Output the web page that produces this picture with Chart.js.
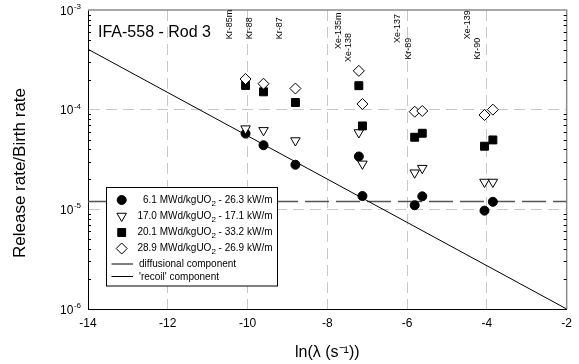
<!DOCTYPE html>
<html>
<head>
<meta charset="utf-8">
<script src="https://cdn.jsdelivr.net/npm/chart.js@4/dist/chart.umd.min.js"></script>
<style>
  html, body { margin: 0; padding: 0; background: #fff; }
</style>
</head>
<body>
<canvas id="chart" width="579" height="364"></canvas>
<script>
const FONT = "'Liberation Sans', Arial, Helvetica, sans-serif";

// ln(lambda) of each measured isotope
const isotopeX = [-10.05, -9.60, -8.80, -7.21, -7.12, -5.81, -5.62, -4.06, -3.85];

// release rate / birth rate for each burnup step
const rb61 = [5.75e-5, 4.4e-5, 2.8e-5, 3.39e-5, 1.36e-5, 1.1e-5, 1.35e-5, 9.7e-6, 1.19e-5];
const rb170 = [6.45e-5, 6.2e-5, 4.9e-5, 5.9e-5, 2.86e-5, 2.33e-5, 2.59e-5, 1.88e-5, 1.88e-5];
const rb201 = [1.75e-4, 1.51e-4, 1.18e-4, 1.74e-4, 6.87e-5, 5.29e-5, 5.8e-5, 4.3e-5, 4.97e-5];
const rb289 = [2.03e-4, 1.82e-4, 1.63e-4, 2.45e-4, 1.14e-4, 9.55e-5, 9.7e-5, 8.85e-5, 1.0e-4];

// model components
const diffX = [-14, -2];
const diffY = [4.04e-4, 1.0e-6];
const recoilX = [-14, -2];
const recoilY = [1.2e-5, 1.2e-5];

// legend text
const burnups = ['6.1', '17.0', '20.1', '28.9'];
const powers = ['26.3', '17.1', '33.2', '26.9'];
const lineLabels = ['diffusional component', "'recoil' component"];

// isotope names along the top
const isoLabels = ['Kr-85m', 'Kr-88', 'Kr-87', 'Xe-135m', 'Xe-138', 'Xe-137', 'Kr-89', 'Xe-139', 'Kr-90'];
const isoLabelX = [-10.45, -9.94, -9.21, -7.72, -7.47, -6.24, -5.96, -4.49, -4.23];
const isoLabelY = [5.1e-4, 5.1e-4, 5.1e-4, 4.06e-4, 3.01e-4, 4.67e-4, 3.16e-4, 5.1e-4, 3.16e-4];

// ticks
const xTicks = [-14, -12, -10, -8, -6, -4, -2];
const yTicks = [1e-6, 1e-5, 1e-4, 1e-3];
const yTickExp = ['-6', '-5', '-4', '-3'];

const chartTitle = 'IFA-558 - Rod 3';
const yTitle = 'Release rate/Birth rate';

const markers = [
  { style: 'circle', r: 4.5, fill: '#000' },
  { style: 'triangle', r: 5.5, fill: '#fff' },
  { style: 'rect', r: 5.6, fill: '#000' },
  { style: 'rectRot', r: 5.5, fill: '#fff' }
];

function toPoints(xs, ys) {
  return xs.map((x, i) => ({ x: x, y: ys[i] }));
}

// draws the same marker shapes as the datasets, for the legend
function drawMarker(ctx, m, x, y) {
  ctx.beginPath();
  if (m.style === 'circle') {
    ctx.arc(x, y, m.r, 0, Math.PI * 2);
  } else if (m.style === 'triangle') {
    const s = m.r * Math.sin(Math.PI / 3);
    ctx.moveTo(x, y + m.r);
    ctx.lineTo(x - s, y - m.r / 2);
    ctx.lineTo(x + s, y - m.r / 2);
    ctx.closePath();
  } else if (m.style === 'rect') {
    const h = m.r * Math.SQRT1_2;
    ctx.rect(x - h, y - h, 2 * h, 2 * h);
  } else {
    ctx.moveTo(x, y - m.r);
    ctx.lineTo(x + m.r, y);
    ctx.lineTo(x, y + m.r);
    ctx.lineTo(x - m.r, y);
    ctx.closePath();
  }
  ctx.fillStyle = m.fill;
  ctx.fill();
  ctx.strokeStyle = '#000';
  ctx.lineWidth = 1;
  ctx.stroke();
}

const decorPlugin = {
  id: 'decor',
  beforeDatasetsDraw(chart) {
    const { ctx, chartArea: a, scales: { y } } = chart;
    ctx.save();
    // top and right frame
    ctx.strokeStyle = '#8c8c8c';
    ctx.lineWidth = 1.5;
    ctx.beginPath();
    ctx.moveTo(a.left, a.top);
    ctx.lineTo(a.right, a.top);
    ctx.lineTo(a.right, a.bottom);
    ctx.stroke();
    // minor ticks on both log axes, pointing in
    ctx.strokeStyle = '#000';
    ctx.lineWidth = 1;
    ctx.beginPath();
    for (let e = -6; e < -3; e++) {
      for (let m = 2; m <= 9; m++) {
        const py = Math.round(y.getPixelForValue(m * Math.pow(10, e))) + 0.5;
        ctx.moveTo(a.left, py);
        ctx.lineTo(a.left + 3, py);
        ctx.moveTo(a.right, py);
        ctx.lineTo(a.right - 3, py);
      }
    }
    ctx.stroke();
    ctx.restore();
  },
  afterDatasetsDraw(chart) {
    const { ctx, chartArea: a, scales: { x, y } } = chart;
    ctx.save();
    ctx.fillStyle = '#000';

    // y tick labels as 10 with superscript exponent
    yTicks.forEach((v, i) => {
      const py = y.getPixelForValue(v);
      const right = a.left - 7;
      ctx.textAlign = 'right';
      ctx.textBaseline = 'alphabetic';
      ctx.font = '8px ' + FONT;
      const ew = ctx.measureText(yTickExp[i]).width;
      ctx.fillText(yTickExp[i], right, py - 1);
      ctx.font = '12px ' + FONT;
      ctx.fillText('10', right - ew - 0.5, py + 4.5);
    });

    // y axis title
    ctx.save();
    ctx.translate(20, a.top + 163);
    ctx.rotate(-Math.PI / 2);
    ctx.textAlign = 'center';
    ctx.textBaseline = 'middle';
    ctx.font = '17px ' + FONT;
    ctx.fillText(yTitle, 0, 0);
    ctx.restore();

    // title inside the plot
    ctx.textAlign = 'left';
    ctx.textBaseline = 'alphabetic';
    ctx.font = '16px ' + FONT;
    ctx.fillText(chartTitle, a.left + 10, a.top + 27);

    // isotope names, rotated
    ctx.font = '9px ' + FONT;
    ctx.textBaseline = 'middle';
    isoLabels.forEach((t, i) => {
      ctx.save();
      ctx.translate(x.getPixelForValue(isoLabelX[i]), y.getPixelForValue(isoLabelY[i]));
      ctx.rotate(-Math.PI / 2);
      ctx.fillText(t, 0, 0);
      ctx.restore();
    });

    // legend box
    const bx = a.left + 18, by = 187.5, bw = 171, bh = 98.5;
    ctx.fillStyle = '#fff';
    ctx.fillRect(bx, by, bw, bh);
    ctx.strokeStyle = '#000';
    ctx.lineWidth = 1;
    ctx.strokeRect(bx + 0.5, by, bw, bh);

    const rowY = [199, 215, 231.5, 247.5];
    burnups.forEach((b, i) => {
      drawMarker(ctx, markers[i], bx + 15.7, rowY[i] + 1);
      const p1 = b + ' MWd/kgUO';
      const p3 = ' - ' + powers[i] + ' kW/m';
      ctx.fillStyle = '#000';
      ctx.textBaseline = 'alphabetic';
      ctx.textAlign = 'left';
      ctx.font = '10px ' + FONT;
      const w1 = ctx.measureText(p1).width;
      const w3 = ctx.measureText(p3).width;
      ctx.font = '8px ' + FONT;
      const w2 = ctx.measureText('2').width;
      const start = bx + bw - 4.5 - (w1 + w2 + w3);
      ctx.font = '10px ' + FONT;
      ctx.fillText(p1, start, rowY[i] + 3.5);
      ctx.fillText(p3, start + w1 + w2, rowY[i] + 3.5);
      ctx.font = '8px ' + FONT;
      ctx.fillText('2', start + w1, rowY[i] + 6.5);
    });

    const lineRowY = [263.5, 276];
    lineLabels.forEach((t, i) => {
      ctx.strokeStyle = '#000';
      ctx.beginPath();
      ctx.moveTo(bx + 5.5, lineRowY[i] + 0.5);
      ctx.lineTo(bx + 27, lineRowY[i] + 0.5);
      ctx.stroke();
      ctx.fillStyle = '#000';
      ctx.font = '10px ' + FONT;
      ctx.fillText(t, bx + 33, lineRowY[i] + 3.5);
    });
    ctx.restore();
  }
};

const gridColor = (ctx, edges) =>
  (ctx.tick && edges.includes(ctx.tick.value)) ? 'rgba(0,0,0,0)' : '#c8c8c8';

new Chart(document.getElementById('chart'), {
  type: 'scatter',
  data: {
    datasets: [
      { label: '6.1', data: toPoints(isotopeX, rb61), order: 4, pointStyle: 'circle', pointRadius: 4.5,
        backgroundColor: '#000', borderColor: '#000', borderWidth: 1 },
      { label: '17.0', data: toPoints(isotopeX, rb170), order: 3, pointStyle: 'triangle', rotation: 180,
        pointRadius: 5.5, backgroundColor: '#fff', borderColor: '#000', borderWidth: 1 },
      { label: '20.1', data: toPoints(isotopeX, rb201), order: 2, pointStyle: 'rect', pointRadius: 5.6,
        backgroundColor: '#000', borderColor: '#000', borderWidth: 1 },
      { label: '28.9', data: toPoints(isotopeX, rb289), order: 1, pointStyle: 'rectRot', pointRadius: 5.5,
        backgroundColor: '#fff', borderColor: '#000', borderWidth: 1 },
      { label: 'diffusional', data: toPoints(diffX, diffY), order: 5, showLine: true, pointRadius: 0,
        borderColor: '#000', borderWidth: 1 },
      { label: 'recoil', data: toPoints(recoilX, recoilY), order: 6, showLine: true, pointRadius: 0,
        borderColor: '#555', borderWidth: 1.5, borderDash: [24, 7] }
    ]
  },
  options: {
    responsive: false,
    animation: false,
    events: [],
    layout: { padding: { top: 10, right: 12, left: 0, bottom: 0 } },
    plugins: { legend: { display: false }, tooltip: { enabled: false } },
    scales: {
      x: {
        type: 'linear', min: -14, max: -2,
        afterBuildTicks: s => { s.ticks = xTicks.map(v => ({ value: v })); },
        afterFit: s => { s.height = 55; },
        ticks: { font: { family: FONT, size: 12 }, color: '#000', padding: 7, callback: v => String(v) },
        grid: { color: c => gridColor(c, [-14, -2]), lineWidth: 1, drawTicks: false },
        border: { display: true, color: '#000', width: 1, dash: [11, 6] },
        title: { display: true, text: 'ln(λ (s⁻¹))', font: { family: FONT, size: 16 }, color: '#000',
          padding: { top: 0, bottom: 2 } }
      },
      y: {
        type: 'logarithmic', min: 1e-6, max: 1e-3,
        afterBuildTicks: s => { s.ticks = yTicks.map(v => ({ value: v })); },
        afterFit: s => { s.width = 88; },
        ticks: { display: false },
        grid: { color: c => gridColor(c, [1e-6, 1e-3]), lineWidth: 1, drawTicks: false },
        border: { display: true, color: '#000', width: 1, dash: [11, 6] }
      }
    }
  },
  plugins: [decorPlugin]
});
</script>
</body>
</html>
